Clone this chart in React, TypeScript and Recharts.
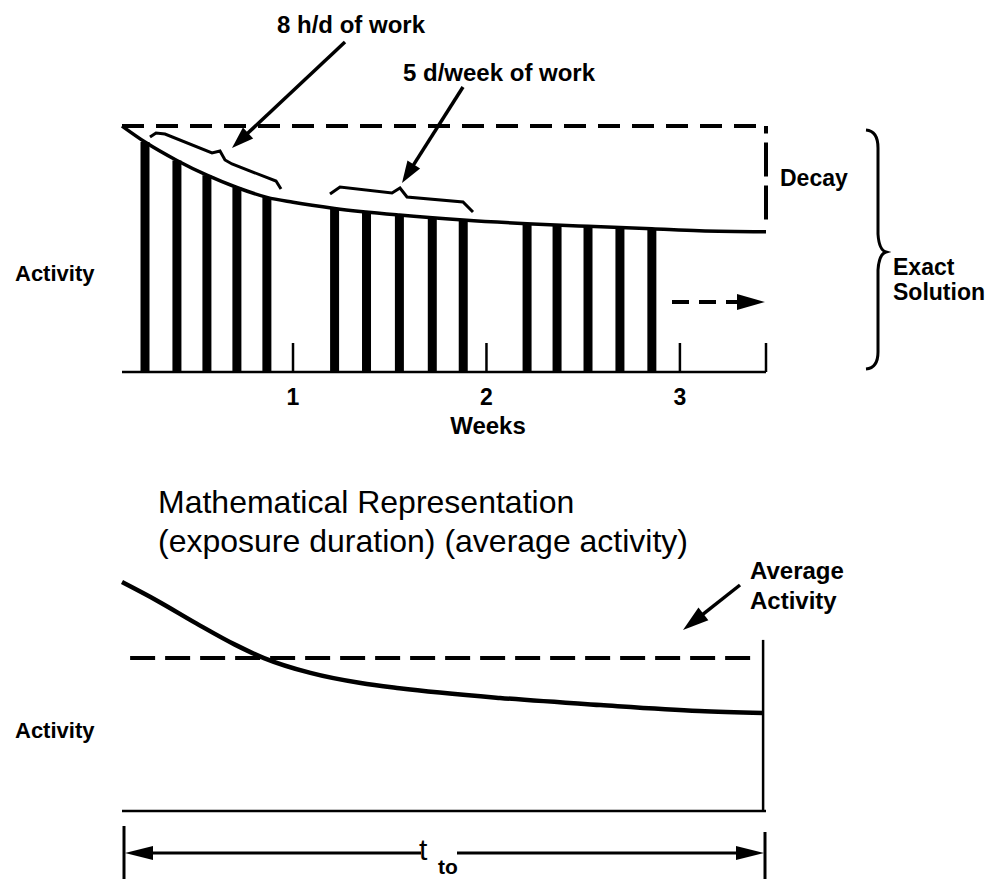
import React from "react";
import { ComposedChart, Bar, Line, XAxis, YAxis, ReferenceLine } from "recharts";

// top panel: exposure on each work day (weeks since start, activity)
const workDays = [0.235, 0.4, 0.555, 0.71, 0.865, 1.215, 1.38, 1.55, 1.72, 1.88, 2.21, 2.365, 2.525, 2.69, 2.855];
const workActivity = [93.5, 86, 80, 75, 71, 66.5, 65, 63.8, 62.7, 61.8, 60.3, 59.8, 59.2, 58.5, 58];

// exact decay curve
const decayWeeks = [0.116, 0.235, 0.4, 0.555, 0.71, 0.865, 1.0, 1.215, 1.55, 1.88, 2.21, 2.525, 2.855, 3.1, 3.445];
const decayActivity = [100, 93.5, 86, 80, 75, 71, 69, 66.5, 63.8, 61.8, 60.3, 59.2, 58.2, 57.4, 57];

const weekTicks = [1, 2, 3];
const startWeek = 0.116;
const endWeek = 3.445;
const initialActivity = 100;
const decayBottom = 62;

// bottom panel: mathematical representation
const modelWeeks = [0.116, 0.3, 0.5, 0.7, 0.85, 1.09, 1.35, 1.55, 2.07, 2.59, 3.1, 3.43];
const modelActivity = [97, 89, 79.5, 70.5, 64.8, 58.5, 54.2, 52, 47.9, 44.9, 42.4, 41.5];
const averageActivity = 64.8;
const averageStart = 0.158;
const averageEnd = 3.388;
const modelEnd = 3.43;
const modelEndTop = 72.5;

const barData = workDays.map((w, i) => ({ w, a: workActivity[i] }));
const decayData = decayWeeks.map((w, i) => ({ w, a: decayActivity[i] }));
const modelData = modelWeeks.map((w, i) => ({ w, a: modelActivity[i] }));

const font = "'Liberation Sans', Arial, Helvetica, sans-serif";
const ink = "#000";

const WeekTick = (props: any) => {
  const { x, y, payload } = props;
  const isEnd = payload.value > 3.2;
  return (
    <g>
      <line x1={x} x2={x} y1={y} y2={y - 29} stroke={ink} strokeWidth={2.5} />
      {!isEnd && (
        <text x={x} y={y + 33} textAnchor="middle" fontFamily={font} fontWeight="bold" fontSize={23} fill={ink}>
          {payload.value}
        </text>
      )}
    </g>
  );
};

function Arrow({ x1, y1, x2, y2, w = 3.5, head = 22, half = 7.5, dash }: any) {
  const dx = x2 - x1;
  const dy = y2 - y1;
  const len = Math.hypot(dx, dy);
  const ux = dx / len;
  const uy = dy / len;
  const bx = x2 - ux * head;
  const by = y2 - uy * head;
  const px = -uy * half;
  const py = ux * half;
  return (
    <g>
      <line x1={x1} y1={y1} x2={bx + ux * 2} y2={by + uy * 2} stroke={ink} strokeWidth={w} strokeDasharray={dash} />
      <polygon points={`${x2},${y2} ${bx + px},${by + py} ${bx - px},${by - py}`} fill={ink} />
    </g>
  );
}

const bold = { fontFamily: font, fontWeight: "bold" as const, fill: ink };

export default function App() {
  return (
    <div style={{ position: "absolute", left: 0, top: 0, width: 993, height: 879, background: "#fff" }}>
      <div style={{ position: "absolute", left: 0, top: 0 }}>
        <ComposedChart width={993} height={460} data={barData} margin={{ top: 126, left: 122, right: 227, bottom: 48 }}>
          <XAxis
            dataKey="w"
            type="number"
            domain={[startWeek, endWeek]}
            ticks={[...weekTicks, endWeek]}
            interval={0}
            tick={<WeekTick />}
            tickLine={false}
            tickSize={0}
            tickMargin={0}
            height={40}
            axisLine={{ stroke: ink, strokeWidth: 2.5 }}
          />
          <YAxis type="number" domain={[0, 100]} width={0} tick={false} tickLine={false} axisLine={{ stroke: ink, strokeWidth: 2.5 }} />
          <Bar dataKey="a" barSize={9} fill={ink} isAnimationActive={false} />
          <Line data={decayData} dataKey="a" type="monotone" stroke={ink} strokeWidth={3.5} dot={false} isAnimationActive={false} />
          <ReferenceLine y={initialActivity} stroke={ink} strokeWidth={4} strokeDasharray="22 12" />
          <ReferenceLine
            segment={[{ x: endWeek, y: decayBottom }, { x: endWeek, y: initialActivity }]}
            stroke={ink}
            strokeWidth={4}
            strokeDasharray="34 9"
          />
        </ComposedChart>
      </div>
      <div style={{ position: "absolute", left: 0, top: 480 }}>
        <ComposedChart width={993} height={399} data={modelData} margin={{ top: 95, left: 122, right: 227, bottom: 67 }}>
          <XAxis dataKey="w" type="number" domain={[startWeek, endWeek]} tick={false} tickLine={false} height={1} axisLine={{ stroke: ink, strokeWidth: 2.5 }} />
          <YAxis type="number" domain={[0, 100]} width={0} tick={false} tickLine={false} axisLine={{ stroke: ink, strokeWidth: 2.5 }} />
          <Line dataKey="a" type="monotone" stroke={ink} strokeWidth={4.5} dot={false} isAnimationActive={false} />
          <ReferenceLine
            segment={[{ x: averageStart, y: averageActivity }, { x: averageEnd, y: averageActivity }]}
            stroke={ink}
            strokeWidth={4}
            strokeDasharray="25 10"
          />
          <ReferenceLine segment={[{ x: modelEnd, y: 0 }, { x: modelEnd, y: modelEndTop }]} stroke={ink} strokeWidth={2.5} />
        </ComposedChart>
      </div>
      <svg width={993} height={879} style={{ position: "absolute", left: 0, top: 0, pointerEvents: "none" }}>
        {/* top annotations */}
        <text x={277} y={33} fontSize={24} {...bold}>8 h/d of work</text>
        <Arrow x1={345} y1={42} x2={232} y2={148} />
        <text x={403} y={81} fontSize={24} {...bold}>5 d/week of work</text>
        <Arrow x1={463} y1={87} x2={402} y2={183} />
        <path d="M150,137 L156,133 L165,134 L212,153 L220,151 L225,160 L232,164 L276,181 L281,189" fill="none" stroke={ink} strokeWidth={3} />
        <path d="M330,194 L340,187 L392,193 L400,188 L407,197 L463,202 L473,212" fill="none" stroke={ink} strokeWidth={3} />
        <text x={780} y={186} fontSize={23} {...bold}>Decay</text>
        <path
          d="M866,130 Q878,131 878,148 L878,234 Q879,250 886,252 Q879,254 878,270 L878,352 Q878,368 866,369"
          fill="none"
          stroke={ink}
          strokeWidth={3}
        />
        <text x={893} y={275} fontSize={23} {...bold}>Exact</text>
        <text x={893} y={300} fontSize={23} {...bold}>Solution</text>
        <text x={15} y={281} fontSize={22} {...bold}>Activity</text>
        <text x={488} y={434} fontSize={24} textAnchor="middle" {...bold}>Weeks</text>
        <Arrow x1={672} y1={302} x2={765} y2={302} w={4} head={28} half={8} dash="17 10" />

        {/* bottom annotations */}
        <text x={158} y={513} fontSize={32} fontFamily={font} fill={ink}>Mathematical Representation</text>
        <text x={158} y={552} fontSize={32} fontFamily={font} fill={ink}>(exposure duration) (average activity)</text>
        <text x={750} y={579} fontSize={24} {...bold}>Average</text>
        <text x={750} y={609} fontSize={24} {...bold}>Activity</text>
        <Arrow x1={740} y1={585} x2={683} y2={630} head={26} half={8} />
        <text x={15} y={738} fontSize={22} {...bold}>Activity</text>

        <line x1={124} y1={826} x2={124} y2={879} stroke={ink} strokeWidth={3} />
        <line x1={765} y1={832} x2={765} y2={879} stroke={ink} strokeWidth={3} />
        <Arrow x1={421} y1={853} x2={125} y2={853} w={3} head={28} half={7} />
        <Arrow x1={457} y1={853} x2={764} y2={853} w={3} head={28} half={7} />
        <text x={419} y={860} fontSize={30} fontFamily={font} fill={ink}>t</text>
        <text x={438} y={874} fontSize={21} {...bold}>to</text>
      </svg>
    </div>
  );
}
